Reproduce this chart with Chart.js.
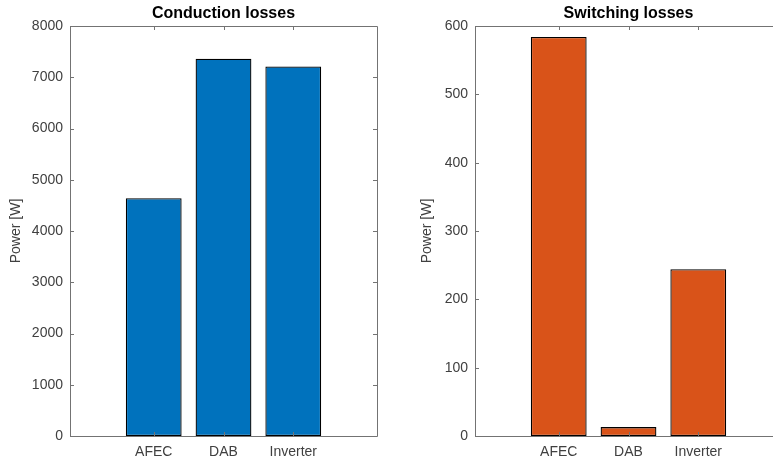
<!DOCTYPE html>
<html>
<head>
<meta charset="utf-8">
<script src="https://cdn.jsdelivr.net/npm/chart.js@4.4.1/dist/chart.umd.min.js"></script>
<style>
  html, body { margin: 0; padding: 0; background: #ffffff; overflow: hidden; }
  body { width: 773px; height: 460px; position: relative; }
  .panel { position: absolute; top: 0; height: 460px; }
  #left { left: 0; width: 400px; }
  #right { left: 400px; width: 400px; }
</style>
</head>
<body>
<div class="panel" id="left"><canvas id="cond"></canvas></div>
<div class="panel" id="right"><canvas id="sw"></canvas></div>
<script>
// Converter stages and their losses
const categories = ['AFEC', 'DAB', 'Inverter'];
const conductionLosses = [4640, 7360, 7210];
const switchingLosses = [584, 13, 244];
const conductionTicks = [0, 1000, 2000, 3000, 4000, 5000, 6000, 7000, 8000];
const switchingTicks = [0, 100, 200, 300, 400, 500, 600];
const categoryPositions = [1, 2, 3];

const FONT = "'Liberation Sans', Arial, Helvetica, sans-serif";
const AXIS_COLOR = '#737373';
const TEXT_COLOR = '#404040';

// Axes box with inward tick marks on all four sides, plus a title centred over the plot area
const boxTicks = {
  id: 'boxTicks',
  afterDraw(chart, args, opts) {
    const { ctx, chartArea: a, scales } = chart;
    const len = 4;
    ctx.save();
    ctx.strokeStyle = AXIS_COLOR;
    ctx.lineWidth = 1;
    ctx.beginPath();
    ctx.rect(Math.round(a.left) + 0.5, Math.round(a.top) + 0.5,
             Math.round(a.right - a.left), Math.round(a.bottom - a.top));
    scales.x.ticks.forEach(t => {
      const px = Math.round(scales.x.getPixelForValue(t.value)) + 0.5;
      ctx.moveTo(px, a.bottom); ctx.lineTo(px, a.bottom - len);
      ctx.moveTo(px, a.top); ctx.lineTo(px, a.top + len);
    });
    scales.y.ticks.forEach(t => {
      const py = Math.round(scales.y.getPixelForValue(t.value)) + 0.5;
      ctx.moveTo(a.left, py); ctx.lineTo(a.left + len, py);
      ctx.moveTo(a.right, py); ctx.lineTo(a.right - len, py);
    });
    ctx.stroke();

    ctx.fillStyle = '#000000';
    ctx.font = `bold 16px ${FONT}`;
    ctx.textAlign = 'center';
    ctx.textBaseline = 'middle';
    ctx.fillText(opts.text, (a.left + a.right) / 2, 14);
    ctx.restore();
  }
};

function makeChart(canvasId, title, values, yTicks, color, yAxisWidth, padRight, labelPad) {
  return new Chart(document.getElementById(canvasId), {
    type: 'bar',
    data: {
      datasets: [{
        data: values.map((v, i) => ({ x: categoryPositions[i], y: v })),
        backgroundColor: color,
        borderColor: '#000000',
        borderWidth: 1.3,
        borderSkipped: false,
        barPercentage: 0.8,
        categoryPercentage: 1.0
      }]
    },
    options: {
      responsive: true,
      maintainAspectRatio: false,
      animation: false,
      layout: { padding: { left: 0, right: padRight, top: 26, bottom: 0 } },
      plugins: {
        legend: { display: false },
        tooltip: { enabled: false },
        title: { display: false },
        boxTicks: { text: title }
      },
      scales: {
        x: {
          type: 'linear',
          offset: false,
          min: -0.2,
          max: 4.2,
          afterBuildTicks(scale) {
            scale.ticks = categoryPositions.map(v => ({ value: v }));
          },
          afterFit(scale) { scale.height = 24; },
          ticks: {
            autoSkip: false,
            maxRotation: 0,
            padding: 8,
            color: TEXT_COLOR,
            font: { family: FONT, size: 14 },
            callback: (v) => categories[categoryPositions.indexOf(v)] ?? ''
          },
          grid: { display: false, drawTicks: false },
          border: { display: false }
        },
        y: {
          min: yTicks[0],
          max: yTicks[yTicks.length - 1],
          afterBuildTicks(scale) {
            scale.ticks = yTicks.map(v => ({ value: v }));
          },
          afterFit(scale) { scale.width = yAxisWidth; },
          ticks: {
            padding: 7,
            color: TEXT_COLOR,
            font: { family: FONT, size: 14 },
            callback: (v) => String(v)
          },
          title: {
            display: true,
            text: 'Power [W]',
            color: TEXT_COLOR,
            font: { family: FONT, size: 14 },
            padding: { top: labelPad, bottom: 0 }
          },
          grid: { display: false, drawTicks: false },
          border: { display: false }
        }
      }
    },
    plugins: [boxTicks]
  });
}

makeChart('cond', 'Conduction losses', conductionLosses, conductionTicks, '#0072BD', 70, 23, 8);
makeChart('sw', 'Switching losses', switchingLosses, switchingTicks, '#D95319', 75, 18, 19);
</script>
</body>
</html>
